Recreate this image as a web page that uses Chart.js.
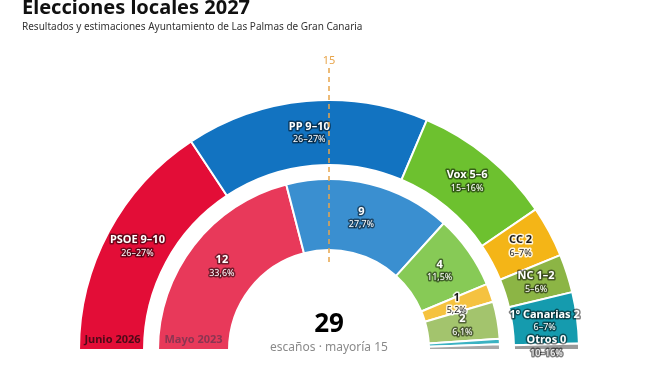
<!DOCTYPE html>
<html lang="es">
<head>
<meta charset="utf-8">
<script src="https://cdn.jsdelivr.net/npm/chart.js@4"></script>
<style>
  body { margin: 0; background: #fff; font-family: "Noto Sans", sans-serif; }
  #wrap { position: relative; width: 659px; height: 371px; overflow: hidden; }
  #titulo { position: absolute; left: 22px; top: -7px; font-size: 20px; font-weight: 700; color: #111; white-space: nowrap; }
  #subtitulo { position: absolute; left: 22px; top: 19px; font-size: 10px; color: #333; white-space: nowrap; }
  canvas { position: absolute; left: 0; top: 0; }
</style>
</head>
<body>
<div id="wrap">
  <canvas id="hemiciclo" width="659" height="371"></canvas>
  <div id="titulo">Elecciones locales 2027</div>
  <div id="subtitulo">Resultados y estimaciones Ayuntamiento de Las Palmas de Gran Canaria</div>
</div>
<script>
const partidos = ['PSOE', 'PP', 'Vox', 'CC', 'NC', '1º Canarias', 'Otros'];
// estimación junio 2026 (horquilla de escaños)
const escanosMin2026 = [9, 9, 5, 2, 1, 2, 0];
const escanosMax2026 = [10, 10, 6, 2, 2, 2, 0];
const arco2026 = [9.5, 9.5, 5.5, 2, 1.5, 2, 0.25];
const voto2026 = ['26–27%', '26–27%', '15–16%', '6–7%', '5–6%', '6–7%', '10–16%'];
// resultado mayo 2023
const escanos2023 = [12, 9, 4, 1, 2, 0, 0];
const arco2023 = [12, 9, 4, 1, 2, 0.3, 0.3];
const voto2023 = ['33,6%', '27,7%', '11,5%', '5,2%', '6,1%', '', ''];
const totalEscanos = 29;
const mayoria = 15;

const colores2026 = ['#E30D37', '#1273C1', '#6DC12F', '#F4B517', '#8CB545', '#159BAE', '#999999'];
const colores2023 = ['#E8395A', '#3A8FD0', '#87CA56', '#F5C240', '#A3C46D', '#3BB2C2', '#A8A8A8'];
const textoOscuro = [false, false, false, true, false, false, false];

function etiquetaRango(i) {
    const a = escanosMin2026[i], b = escanosMax2026[i];
    return a === b ? `${partidos[i]} ${a}` : `${partidos[i]} ${a}–${b}`;
}

function texto(ctx, str, x, y, font, oscuro) {
    ctx.font = font;
    ctx.lineJoin = 'round';
    ctx.lineWidth = 3;
    ctx.strokeStyle = oscuro ? 'rgba(255,255,255,0.85)' : 'rgba(0,0,0,0.5)';
    ctx.strokeText(str, x, y);
    ctx.fillStyle = oscuro ? '#1a1a1a' : '#ffffff';
    ctx.fillText(str, x, y);
}

const etiquetas = {
    id: 'etiquetas',
    afterDatasetsDraw(chart) {
        const ctx = chart.ctx;
        const fuente = '"Noto Sans", sans-serif';
        ctx.save();
        ctx.textAlign = 'center';
        ctx.textBaseline = 'middle';

        const ext = chart.getDatasetMeta(0);
        ext.data.forEach((arc, i) => {
            const p = arc.tooltipPosition();
            texto(ctx, etiquetaRango(i), p.x, p.y - 7, `bold 11px ${fuente}`, textoOscuro[i]);
            texto(ctx, voto2026[i], p.x, p.y + 6, `9px ${fuente}`, textoOscuro[i]);
        });

        const int = chart.getDatasetMeta(2);
        int.data.forEach((arc, i) => {
            if (!escanos2023[i]) return;
            const p = arc.tooltipPosition();
            texto(ctx, String(escanos2023[i]), p.x, p.y - 7, `bold 11px ${fuente}`, textoOscuro[i]);
            texto(ctx, voto2023[i], p.x, p.y + 6, `9px ${fuente}`, textoOscuro[i]);
        });

        const a0 = ext.data[0];
        const cx = a0.x, cy = a0.y;

        // línea de mayoría
        ctx.strokeStyle = '#E8A54B';
        ctx.lineWidth = 1.5;
        ctx.setLineDash([5, 4]);
        ctx.beginPath();
        ctx.moveTo(cx, cy - 282);
        ctx.lineTo(cx, cy - 87);
        ctx.stroke();
        ctx.setLineDash([]);
        ctx.fillStyle = '#E8A54B';
        ctx.font = `11px ${fuente}`;
        ctx.fillText(String(mayoria), cx, cy - 289);

        // centro
        ctx.fillStyle = '#000';
        ctx.font = `bold 26px ${fuente}`;
        ctx.fillText(String(totalEscanos), cx, cy - 25);
        ctx.fillStyle = '#8a8a8a';
        ctx.font = `12px ${fuente}`;
        ctx.fillText(`escaños · mayoría ${mayoria}`, cx, cy - 2);

        // rótulos de anillos
        const rExt = (a0.innerRadius + a0.outerRadius) / 2;
        const a2 = int.data[0];
        const rInt = (a2.innerRadius + a2.outerRadius) / 2;
        ctx.font = `bold 11px ${fuente}`;
        ctx.fillStyle = '#4d0a18';
        ctx.fillText('Junio 2026', cx - rExt + 1, cy - 10);
        ctx.fillStyle = '#8c3552';
        ctx.fillText('Mayo 2023', cx - rInt, cy - 10);
        ctx.restore();
    }
};

new Chart(document.getElementById('hemiciclo'), {
    type: 'doughnut',
    data: {
        labels: partidos,
        datasets: [
            { label: 'Junio 2026', data: arco2026, backgroundColor: colores2026, borderColor: '#fff', borderWidth: 2, weight: 65 },
            { label: '', data: [1], backgroundColor: 'rgba(0,0,0,0)', borderWidth: 0, weight: 14 },
            { label: 'Mayo 2023', data: arco2023, backgroundColor: colores2023, borderColor: '#fff', borderWidth: 2, weight: 71 }
        ]
    },
    options: {
        responsive: false,
        animation: false,
        rotation: -90,
        circumference: 180,
        radius: 250,
        cutout: '40%',
        layout: { padding: { left: 79, right: 80, top: 100, bottom: 21 } },
        plugins: { legend: { display: false }, tooltip: { enabled: false } },
        events: []
    },
    plugins: [etiquetas]
});
</script>
</body>
</html>
